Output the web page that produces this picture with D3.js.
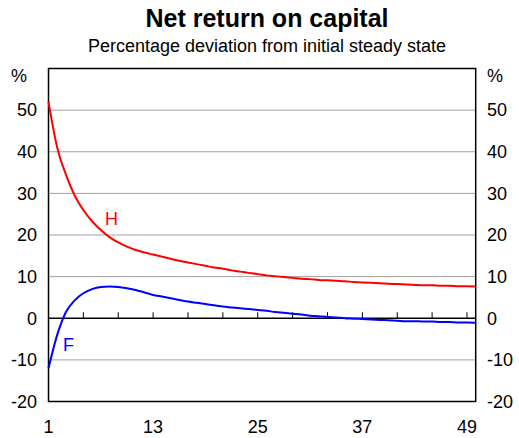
<!DOCTYPE html>
<html><head><meta charset="utf-8">
<script src="https://cdn.jsdelivr.net/npm/d3@7"></script>
<style>body{margin:0;background:#fff}svg{display:block}text{font-family:"Liberation Sans",Arial,sans-serif}</style>
</head><body><svg id="c" width="519" height="438"></svg>
<script>
const periods = d3.range(1, 51);
const seriesH = [52,41,34.5,29.5,26,23.3,21.2,19.5,18.2,17.2,16.4,15.8,15.3,14.8,14.3,13.8,13.4,13.0,12.6,12.2,11.9,11.5,11.2,10.9,10.6,10.3,10.1,9.9,9.7,9.5,9.4,9.2,9.1,9.0,8.9,8.7,8.6,8.5,8.4,8.3,8.2,8.1,8.0,7.9,7.9,7.8,7.8,7.7,7.7,7.6];
const seriesF = [-12,-4,1.5,4.3,6.0,7.0,7.5,7.6,7.5,7.2,6.8,6.2,5.6,5.2,4.8,4.4,4.0,3.7,3.4,3.1,2.8,2.6,2.4,2.2,2.0,1.8,1.5,1.3,1.1,0.9,0.6,0.5,0.3,0.2,0.0,-0.1,-0.2,-0.3,-0.4,-0.5,-0.6,-0.7,-0.7,-0.8,-0.8,-0.9,-0.9,-1.0,-1.0,-1.1];
const yTicks = [-20,-10,0,10,20,30,40,50];
const xLabels = [1,13,25,37,49];
const xMinorTicks = [5,9,13,17,21,25,29,33,37,41,45,49];

const svg = d3.select("#c");
const L = 48.5, R = 475.7, T = 68.5, B = 401.5;
const x = d3.scaleLinear().domain([1, 50]).range([L, R]);
const y = d3.scaleLinear().domain([-20, 60]).range([B, T]);

svg.append("text").attr("x", 267).attr("y", 27).attr("text-anchor", "middle")
  .attr("font-size", 25).attr("font-weight", "bold").text("Net return on capital");
svg.append("text").attr("x", 267).attr("y", 52).attr("text-anchor", "middle")
  .attr("font-size", 18).text("Percentage deviation from initial steady state");

// gridlines
svg.append("g").selectAll("line").data(yTicks.filter(v => v !== 0 && v !== -20)).join("line")
  .attr("x1", L).attr("x2", R).attr("y1", d => y(d)).attr("y2", d => y(d))
  .attr("stroke", "#a0a0a0").attr("stroke-width", 1);

// zero axis with ticks
svg.append("line").attr("x1", L).attr("x2", R).attr("y1", y(0)).attr("y2", y(0))
  .attr("stroke", "#000").attr("stroke-width", 1.5);
svg.append("g").selectAll("line").data(xMinorTicks).join("line")
  .attr("x1", d => x(d)).attr("x2", d => x(d)).attr("y1", y(0)).attr("y2", y(0) - 6)
  .attr("stroke", "#000").attr("stroke-width", 1);

// frame
svg.append("rect").attr("x", L).attr("y", T).attr("width", R - L).attr("height", B - T)
  .attr("fill", "none").attr("stroke", "#000").attr("stroke-width", 1.5);

// y labels
const yl = svg.append("g").attr("font-size", 18);
yTicks.forEach(v => {
  yl.append("text").attr("x", 37).attr("y", y(v)).attr("dy", "0.35em").attr("text-anchor", "end").text(v);
  yl.append("text").attr("x", 487).attr("y", y(v)).attr("dy", "0.35em").attr("text-anchor", "start").text(v);
});
yl.append("text").attr("x", 11).attr("y", 82).text("%");
yl.append("text").attr("x", 487).attr("y", 82).text("%");

// x labels
svg.append("g").attr("font-size", 18).selectAll("text").data(xLabels).join("text")
  .attr("x", d => x(d)).attr("y", 433).attr("text-anchor", "middle").text(d => d);

const line = d3.line().x((d, i) => x(periods[i])).y(d => y(d)).curve(d3.curveMonotoneX);
svg.append("path").attr("d", line(seriesH)).attr("fill", "none").attr("stroke", "#ff0000").attr("stroke-width", 2);
svg.append("path").attr("d", line(seriesF)).attr("fill", "none").attr("stroke", "#0000ff").attr("stroke-width", 2);

svg.append("text").attr("x", 105).attr("y", 225).attr("font-size", 18).attr("fill", "#ff0000").text("H");
svg.append("text").attr("x", 63).attr("y", 351).attr("font-size", 18).attr("fill", "#0000ff").text("F");
</script></body></html>
